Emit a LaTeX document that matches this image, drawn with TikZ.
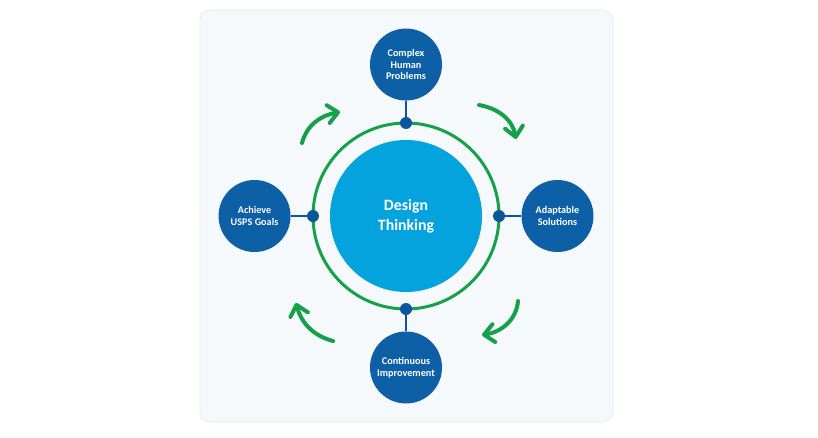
\documentclass[tikz,border=0pt]{standalone}
\usepackage{fontspec}
\setmainfont{Carlito}
\usepackage{tikz}
\usetikzlibrary{
  arrows.meta, positioning
}
\definecolor{panelbg}    {HTML}{F5F9FC}
\definecolor{panelline}  {HTML}{E4ECF3}
\definecolor{coreblue}   {HTML}{05A3DE}
\definecolor{nodeblue}   {HTML}{0D5FA6}
\definecolor{jointblue}  {HTML}{0B5699}
\definecolor{cyclegreen} {HTML}{16A04A}
\tikzset{
  corenode/.style={
    circle, minimum size=4.56cm, inner sep=0pt,
    fill=coreblue, text=white, align=center,
    font=\fontsize{13.5}{17}\selectfont\bfseries
  },
  outernode/.style={
    circle, minimum size=2.16cm, inner sep=0pt,
    fill=nodeblue, text=white, align=center,
    font=\fontsize{8.7}{9.8}\selectfont\bfseries
  },
  ringnode/.style={
    circle, minimum size=5.58cm, inner sep=0pt, outer sep=0pt,
    draw=cyclegreen, line width=0.09cm
  },
  joint/.style={
    circle, minimum size=0.36cm, inner sep=0pt, fill=jointblue
  },
  linkline/.style={line width=0.075cm, draw=jointblue},
  cyclearrow/.style={
    -{Straight Barb[round, length=3mm, width=5.4mm]},
    line width=0.12cm, draw=cyclegreen, line cap=round
  },
  panel/.style={
    rounded corners=0.3cm, fill=panelbg, draw=panelline, line width=0.6pt
  }
}

\begin{document}
\begin{tikzpicture}[x=0.03cm, y=0.03cm, node distance=1.17cm]

  \useasboundingbox (0,0) rectangle (818,437);
  \draw[panel] (200,15) rectangle (613,427);

  \node[corenode] (core) at (406,221) {Design\\Thinking};
  \node[ringnode] (ring) at (core) {};

  \node[outernode, above=of core] (problems) {Complex\\Human\\Problems};
  \node[outernode, right=of core] (solutions) {Adaptable\\Solutions};
  \node[outernode, below=of core] (improve) {Continuous\\Improvement};
  \node[outernode, left=of core]  (goals) {Achieve\\USPS Goals};

  \node[joint] (jn) at (ring.north) {};
  \node[joint] (je) at (ring.east)  {};
  \node[joint] (js) at (ring.south) {};
  \node[joint] (jw) at (ring.west)  {};

  \foreach \a/\b in {jn/problems, je/solutions, js/improve, jw/goals}{
    \draw[linkline] (\a) -- (\b);
  }

  \coordinate (tlA) at (302,294); \coordinate (tlB) at (340,325);
  \coordinate (trA) at (479,332); \coordinate (trB) at (516,298);
  \coordinate (brA) at (518,136); \coordinate (brB) at (482,102);
  \coordinate (blA) at (333,96);  \coordinate (blB) at (296,134);

  \draw[cyclearrow] (tlA) to[out=75,  in=190] (tlB);
  \draw[cyclearrow] (trA) to[out=-10, in=100] (trB);
  \draw[cyclearrow] (brA) to[out=-95, in=9]   (brB);
  \draw[cyclearrow] (blA) to[out=165, in=-75] (blB);

\end{tikzpicture}
\end{document}
